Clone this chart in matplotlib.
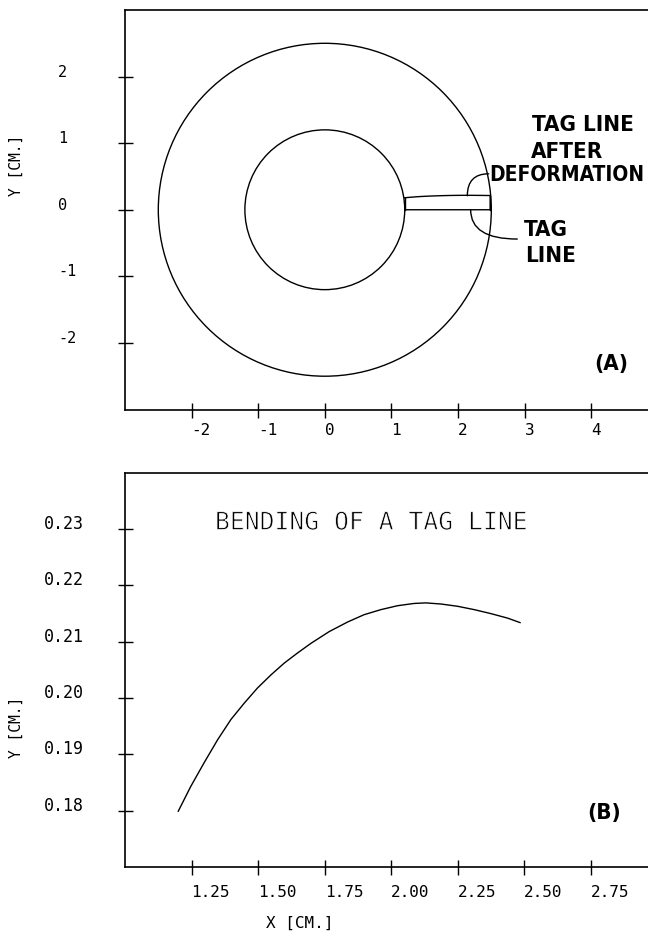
import matplotlib
matplotlib.use("Agg")
import matplotlib.pyplot as plt
import matplotlib.patheffects as pe
from matplotlib.patches import Circle

# bent tag line, x [cm] vs y [cm]
bend_x = [1.200, 1.247, 1.297, 1.348, 1.398, 1.448, 1.498, 1.548, 1.598, 1.648,
          1.698, 1.767, 1.836, 1.898, 1.961, 2.024, 2.086, 2.130, 2.187, 2.249,
          2.312, 2.374, 2.437, 2.484]
bend_y = [0.1799, 0.1843, 0.1885, 0.1926, 0.1962, 0.1991, 0.2018, 0.2041, 0.2062, 0.2080,
          0.2097, 0.2118, 0.2135, 0.2148, 0.2157, 0.2164, 0.2168, 0.2169, 0.2167, 0.2163,
          0.2157, 0.2150, 0.2142, 0.2134]

# ring geometry
ring_radii = [2.5, 1.2]

top_xticks = [-2, -1, 0, 1, 2, 3, 4]
top_xlabels = ['-2', '-1', '0', '1', '2', '3', '4']
top_yticks = [-2, -1, 0, 1, 2]
top_ylabels = ['-2', '-1', '0', '1', '2']

bot_xticks = [1.25, 1.50, 1.75, 2.00, 2.25, 2.50, 2.75]
bot_xlabels = ['1.25', '1.50', '1.75', '2.00', '2.25', '2.50', '2.75']
bot_yticks = [0.18, 0.19, 0.20, 0.21, 0.22, 0.23]
bot_ylabels = ['0.18', '0.19', '0.20', '0.21', '0.22', '0.23']

MONO = 'DejaVu Sans Mono'
thin = [pe.Stroke(linewidth=0.6, foreground='white')]
bold = dict(family='DejaVu Sans', fontweight='bold', fontstretch='condensed',
            fontsize=16, color='black')

W, H = 648, 935
fig = plt.figure(figsize=(W / 100, H / 100), dpi=100)
ax1 = fig.add_axes([125 / W, 1 - 409.5 / H, 532.8 / W, 399.5 / H])
ax2 = fig.add_axes([125 / W, 1 - 867 / H, 532.4 / W, 394.2 / H])


def style_axes(ax, xt, xl, yt, yl, ypad, xpad, ysize):
    for s in ['left', 'bottom', 'top']:
        ax.spines[s].set_linewidth(1.2)
    ax.spines['right'].set_visible(False)
    ax.set_xticks(xt)
    ax.set_xticklabels(xl, family=MONO, fontsize=11.5, ha='left')
    ax.set_yticks(yt)
    ax.set_yticklabels(yl, family=MONO, fontsize=ysize, ha='left', va='baseline')
    ax.tick_params(direction='inout', length=10.8, width=1.0)
    ax.tick_params(axis='y', pad=ypad)
    ax.tick_params(axis='x', pad=xpad)


# (A) ring with tag line
ax1.set_xlim(-3, 5)
ax1.set_ylim(-3, 3)
for r in ring_radii:
    ax1.add_patch(Circle((0, 0), r, fill=False, lw=1.0, ec='black'))
# deformed tag line on top, original tag line along y = 0
ax1.plot(bend_x + bend_x[::-1], bend_y + [0.0] * len(bend_x), color='black', lw=1.0)
ax1.plot([bend_x[0], bend_x[0]], [0.0, bend_y[0]], color='black', lw=1.0)
ax1.plot([bend_x[-1], bend_x[-1]], [0.0, bend_y[-1]], color='black', lw=1.0)
style_axes(ax1, top_xticks, top_xlabels, top_yticks, top_ylabels, 42.8, 4, 11)

ax1.text(3.11, 1.18, 'TAG LINE', **bold)
ax1.text(3.09, 0.78, 'AFTER', **bold)
ax1.text(2.47, 0.43, 'DEFORMATION', **dict(bold, fontsize=15))
ax1.text(2.99, -0.40, 'TAG', **bold)
ax1.text(3.01, -0.78, 'LINE', **bold)
ax1.text(4.04, -2.41, '(A)', **bold)
ax1.annotate('', xy=(2.14, 0.21), xytext=(2.46, 0.54),
             arrowprops=dict(arrowstyle='-', lw=1.0, shrinkA=0, shrinkB=0,
                             connectionstyle='angle3,angleA=0,angleB=90'))
ax1.annotate('', xy=(2.89, -0.44), xytext=(2.19, 0.0),
             arrowprops=dict(arrowstyle='-', lw=1.0, shrinkA=0, shrinkB=0,
                             connectionstyle='angle3,angleA=90,angleB=0'))
ax1.set_ylabel('Y [CM.]', family=MONO, fontsize=10.5, va='center')
ax1.yaxis.set_label_coords(-0.2046, 0.612)

# (B) bending of the tag line
ax2.set_xlim(1.0, 3.0)
ax2.set_ylim(0.17, 0.24)
ax2.plot(bend_x, bend_y, color='black', lw=1.0)
style_axes(ax2, bot_xticks, bot_xlabels, bot_yticks, bot_ylabels, 52.9, 7.6, 12)
ax2.text(1.338, 0.2299, 'BENDING OF A TAG LINE', family=MONO, fontsize=17.8,
         path_effects=thin)
ax2.text(2.735, 0.1786, '(B)', **bold)
ax2.set_ylabel('Y [CM.]', family=MONO, fontsize=10.5, va='center')
ax2.yaxis.set_label_coords(-0.2046, 0.355)
ax2.set_xlabel('X [CM.]', family=MONO, fontsize=11.5, va='center')
ax2.xaxis.set_label_coords(0.3285, -0.143)

fig.savefig('out.png', dpi=100)
